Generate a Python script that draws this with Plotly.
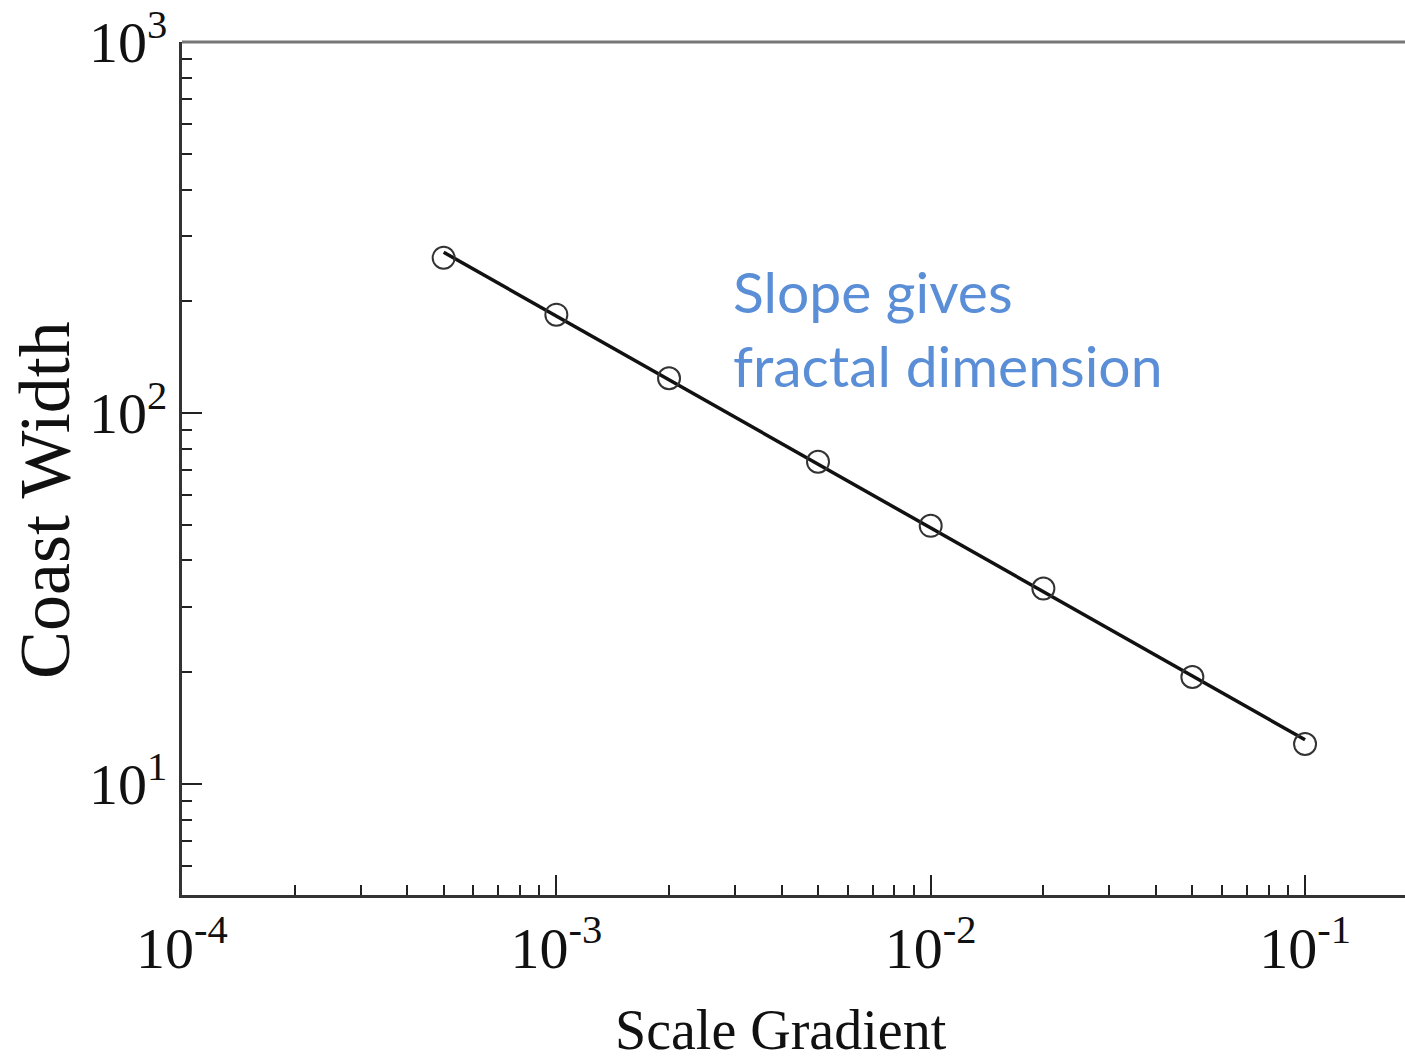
import numpy as np
import plotly.graph_objects as go

# Data
scale_gradient = [5e-4, 1e-3, 2e-3, 5e-3, 1e-2, 2e-2, 5e-2, 1e-1]
coast_width = [262, 184, 124, 73.8, 49.6, 33.6, 19.4, 12.8]

x_tick_vals = [1e-4, 1e-3, 1e-2, 1e-1]
x_tick_text = ["10<sup>-4</sup>", "10<sup>-3</sup>", "10<sup>-2</sup>", "10<sup>-1</sup>"]
y_tick_vals = [10, 100, 1000]
y_tick_text = ["10<sup>1</sup>", "10<sup>2</sup>", "10<sup>3</sup>"]

x_title = "Scale Gradient"
y_title = "Coast Width"
note_text = "Slope gives<br>fractal dimension"

# least-squares fit in log-log space for the line
lx = np.log10(scale_gradient)
ly = np.log10(coast_width)
slope, intercept = np.polyfit(lx, ly, 1)
fit_x = [scale_gradient[0], scale_gradient[-1]]
fit_y = [10 ** (intercept + slope * np.log10(v)) for v in fit_x]

x_minor = [k * 10.0 ** e for e in range(-4, 0) for k in range(2, 10)]
y_minor = [k * 10.0 ** e for e in range(0, 3) for k in range(2, 10)]

serif = "Liberation Serif, Times New Roman, serif"

fig = go.Figure()
fig.add_trace(go.Scatter(x=fit_x, y=fit_y, mode="lines",
                         line=dict(color="#111111", width=3.5), showlegend=False))
fig.add_trace(go.Scatter(x=scale_gradient, y=coast_width, mode="markers",
                         marker=dict(symbol="circle-open", size=22,
                                     line=dict(color="#333333", width=2),
                                     color="#333333"),
                         showlegend=False))

fig.update_layout(
    width=1405, height=1060,
    margin=dict(l=182, r=0, t=42, b=165),
    plot_bgcolor="white", paper_bgcolor="white",
    font=dict(family=serif, color="#111111"),
    xaxis=dict(type="log", range=[-4, -0.733],
               tickmode="array", tickvals=x_tick_vals, ticktext=x_tick_text,
               ticks="inside", ticklen=20, tickwidth=2, tickcolor="#222222",
               showline=True, linecolor="#333333", linewidth=3,
               showgrid=False, zeroline=False,
               tickfont=dict(family=serif, size=58, color="#111111"),
               minor=dict(tickmode="array", tickvals=x_minor, ticks="inside",
                          ticklen=10, tickwidth=2, tickcolor="#222222", showgrid=False)),
    yaxis=dict(type="log", range=[0.7, 3.0],
               tickmode="array", tickvals=y_tick_vals, ticktext=y_tick_text,
               ticks="inside", ticklen=20, tickwidth=2, tickcolor="#222222",
               showline=True, linecolor="#333333", linewidth=3,
               showgrid=False, zeroline=False,
               tickfont=dict(family=serif, size=58, color="#111111"),
               minor=dict(tickmode="array", tickvals=y_minor, ticks="inside",
                          ticklen=10, tickwidth=2, tickcolor="#222222", showgrid=False)),
    shapes=[dict(type="line", xref="paper", yref="paper", x0=0, x1=1, y0=1, y1=1,
                 line=dict(color="#777777", width=3))],
    annotations=[
        dict(text=x_title, xref="paper", yref="paper", x=0.49, y=-0.158,
             xanchor="center", yanchor="middle", showarrow=False,
             font=dict(family=serif, size=56, color="#111111")),
        dict(text=y_title, xref="paper", yref="paper", x=-0.112, y=0.463,
             xanchor="center", yanchor="middle", textangle=-90, showarrow=False,
             font=dict(family=serif, size=72, color="#111111")),
        dict(text=note_text, xref="paper", yref="paper", x=0.4485, y=0.75,
             xanchor="left", yanchor="top", align="left", showarrow=False,
             font=dict(family="Lato, Open Sans, sans-serif", size=57, color="#5A8ED6")),
    ],
)

fig.write_html("out.html")
